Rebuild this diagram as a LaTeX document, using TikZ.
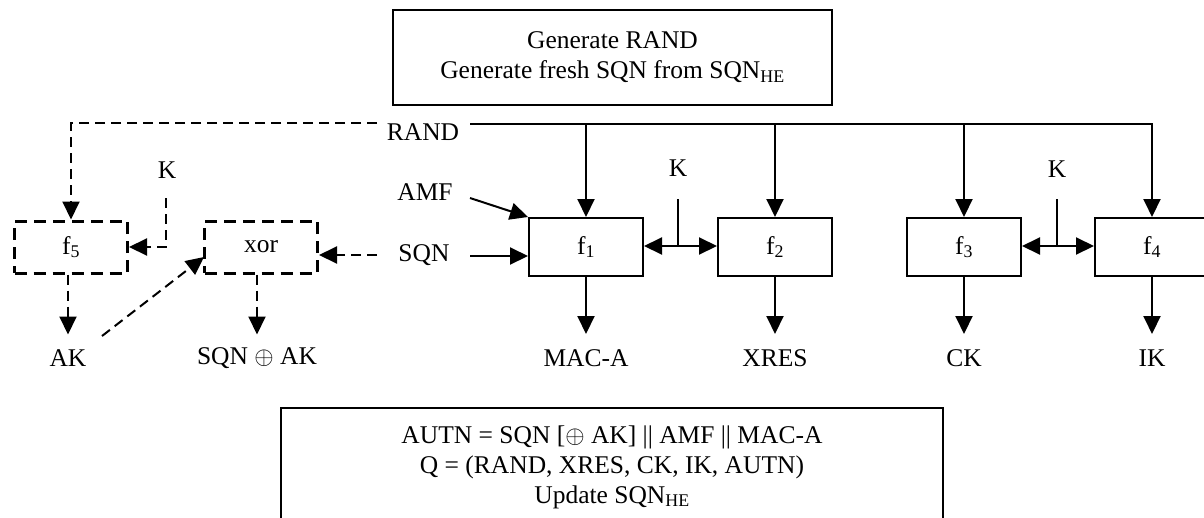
\documentclass[tikz,border=0pt]{standalone}
\usepackage{fontspec}
\setmainfont{Liberation Serif}
\usetikzlibrary{arrows.meta}
\tikzset{
  base/.style={font=\fontsize{25.5}{30}\selectfont},
  lbl/.style={base, inner sep=0pt, anchor=center},
  fbox/.style={base, draw, line width=2pt, minimum width=114pt, minimum height=58pt, inner sep=0pt},
  dbox/.style={base, draw, line width=3pt, dash pattern=on 12pt off 7pt, minimum width=113pt, minimum height=52pt, inner sep=0pt},
  arr/.style={line width=2pt, -{Triangle[length=18pt,width=17pt]}},
  darr/.style={line width=2pt, dash pattern=on 10pt off 6pt, -{Triangle[length=18pt,width=17pt]}},
  both/.style={line width=2pt, {Triangle[length=18pt,width=17pt]}-{Triangle[length=18pt,width=17pt]}},
  sline/.style={line width=2pt},
}
\begin{document}
\begin{tikzpicture}[x=1pt,y=-1pt]
\clip (0,0) rectangle (1204,517);
\useasboundingbox (0,0) rectangle (1204,517);

% top box
\node[base, draw, line width=2pt, minimum width=439pt, minimum height=95pt, align=center, inner sep=0pt] (gen) at (612.5,57.5)
  {Generate RAND\\Generate fresh SQN from SQN\textsubscript{HE}};

% labels
\node[lbl] (rand) at (423,132) {RAND};
\node[lbl] (amf) at (425,192) {AMF};
\node[lbl] (sqn) at (424,255) {SQN};
\node[lbl] (k0) at (167,170) {K};
\node[lbl] (k1) at (678,168) {K};
\node[lbl] (k2) at (1057,169) {K};

% function boxes
\node[fbox] (f1) at (586,247) {f\textsubscript{1}};
\node[fbox] (f2) at (775,247) {f\textsubscript{2}};
\node[fbox] (f3) at (964,247) {f\textsubscript{3}};
\node[fbox] (f4) at (1152,247) {f\textsubscript{4}};
\node[dbox] (f5) at (71,247) {f\textsubscript{5}};
\node[dbox] (xor) at (261,247) {xor};

% outputs
\node[lbl] (mac) at (586,358) {MAC-A};
\node[lbl] (xres) at (775,358) {XRES};
\node[lbl] (ck) at (964,358) {CK};
\node[lbl] (ik) at (1152,358) {IK};
\node[lbl] (ak) at (68,358) {AK};
\node[lbl] (sak) at (257,358) {SQN $\oplus$ AK};

% RAND distribution
\coordinate (rs) at (470,124);
\draw[arr] (rs) -| (f4.north);
\draw[arr] (rs -| f1.north) -- (f1.north);
\draw[arr] (rs -| f2.north) -- (f2.north);
\draw[arr] (rs -| f3.north) -- (f3.north);

% dashed RAND to f5
\coordinate (rd) at (377,123);
\draw[darr] (rd) -| (f5.north);

% AMF and SQN into f1
\coordinate (amfs) at (470,198);
\draw[arr] (amfs) -- (f1.north west);
\coordinate (sqns) at (470,256);
\draw[arr] (sqns) -- (sqns -| f1.west);

% dashed SQN to xor
\coordinate (sqd) at (377,255);
\draw[darr] (sqd) -- (sqd -| xor.east);

% K into f1/f2 and f3/f4
\coordinate (k1t) at (678,199);
\coordinate (k1b) at (678,246);
\draw[sline] (k1t) -- (k1b);
\draw[both] (k1b -| f1.east) -- (k1b -| f2.west);
\coordinate (k2t) at (1057,199);
\coordinate (k2b) at (1057,246);
\draw[sline] (k2t) -- (k2b);
\draw[both] (k2b -| f3.east) -- (k2b -| f4.west);

% K into f5 (dashed)
\coordinate (k0t) at (166,198);
\draw[darr] (k0t) |- (f5.east);

% output arrows
\draw[arr] (f1.south) -- ++(0,57);
\draw[arr] (f2.south) -- ++(0,57);
\draw[arr] (f3.south) -- ++(0,57);
\draw[arr] (f4.south) -- ++(0,57);
\draw[darr] (f5.south -| ak) -- ++(0,60);
\draw[darr] (xor.south -| sak) -- ++(0,60);

% AK to xor (dashed diagonal)
\coordinate (akd) at (102,336);
\coordinate (xin) at (204,257);
\draw[darr] (akd) -- (xin);

% bottom box
\coordinate (bl) at (281,540);
\coordinate (br) at (943,540);
\draw[line width=2pt] (bl) |- (943,408) -- (br);
\node[base, align=center, inner sep=0pt] (res) at (612,467)
  {AUTN = SQN [$\oplus$ AK] || AMF || MAC-A\\Q = (RAND, XRES, CK, IK, AUTN)\\Update SQN\textsubscript{HE}};
\end{tikzpicture}
\end{document}
